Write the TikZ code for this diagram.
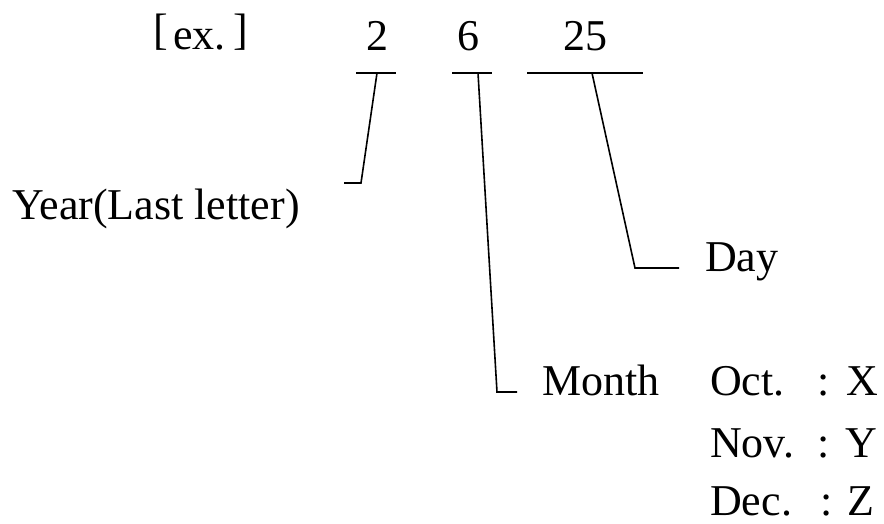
\documentclass[tikz,border=0pt]{standalone}
\usepackage{fontspec}
\setmainfont{Liberation Serif}
\begin{document}
\begin{tikzpicture}[x=1pt,y=-1pt,
  lbl/.style={anchor=base west,inner sep=0pt,font=\fontsize{44}{50}\selectfont},
  num/.style={anchor=base,inner sep=0pt,font=\fontsize{44}{50}\selectfont},
  ln/.style={line width=1.6pt,black}]
\useasboundingbox (0,0) rectangle (884,524);
% header
\node[lbl] (lb) at (153,45) {[};
\node[lbl] (ex) at (173,50) {ex.};
\node[lbl] (rb) at (233,45) {]};
\node[num] (n2) at (377,51) {2};
\node[num] (n6) at (468,51) {6};
\node[num] (n25) at (585,51) {25};
% underlines
\coordinate (u2a) at (356,73); \coordinate (u2b) at (396,73);
\coordinate (u6a) at (452,73); \coordinate (u6b) at (492,73);
\coordinate (u25a) at (527,73); \coordinate (u25b) at (643,73);
\draw[ln] (u2a) -- (u2b);
\draw[ln] (u6a) -- (u6b);
\draw[ln] (u25a) -- (u25b);
% labels
\node[lbl] (year) at (12,219) {Year(Last letter)};
\node[lbl] (day) at (705,271) {Day};
\node[lbl] (month) at (542,395) {Month};
\node[lbl] (oct) at (710,395) {Oct.};
\node[lbl] (nov) at (710,457) {Nov.};
\node[lbl] (dec) at (710,515) {Dec.};
\node[lbl] (c1) at (817,395) {:};
\node[lbl] (c2) at (817,457) {:};
\node[lbl] (c3) at (820,515) {:};
\node[lbl] (vx) at (846,395) {X};
\node[lbl] (vy) at (845,457) {Y};
\node[lbl] (vz) at (847,515) {Z};
% connectors
\coordinate (s2) at (377,73); \coordinate (b2) at (361,183); \coordinate (e2) at (344,183);
\coordinate (s6) at (478,73); \coordinate (b6) at (497,392); \coordinate (e6) at (517,392);
\coordinate (s25) at (592,73); \coordinate (b25) at (635,268); \coordinate (e25) at (679,268);
\draw[ln] (s2) -- (b2) -- (e2);
\draw[ln] (s6) -- (b6) -- (e6);
\draw[ln] (s25) -- (b25) -- (e25);
\end{tikzpicture}
\end{document}
